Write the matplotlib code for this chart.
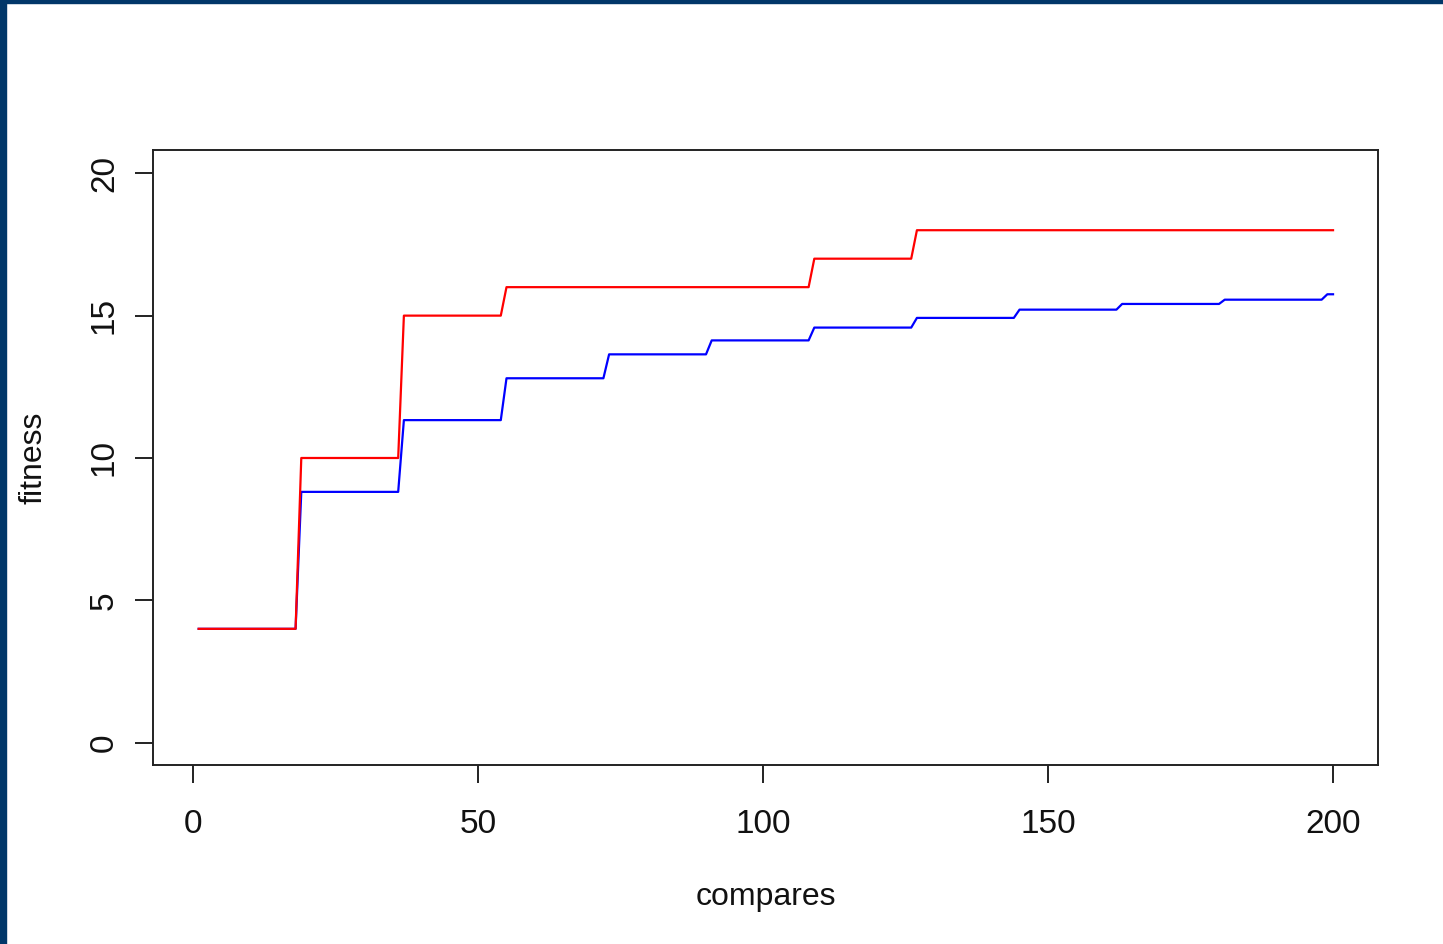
import numpy as np
import matplotlib
matplotlib.use('Agg')
import matplotlib.pyplot as plt
from matplotlib.patches import Rectangle

# fitness per generation block of 18 compares (last block is partial)
block_size = 18
best_fitness = [4, 10, 15, 16, 16, 16, 17, 18, 18, 18, 18, 18]
mean_fitness = [4, 8.81, 11.33, 12.8, 13.64, 14.13, 14.58, 14.92, 15.21, 15.41, 15.56, 15.75]
x_ticks = [0, 50, 100, 150, 200]
y_ticks = [0, 5, 10, 15, 20]

compares = np.arange(1, 201)
block = (compares - 1) // block_size
best = np.array(best_fitness)[block]
mean = np.array(mean_fitness)[block]

plt.rcParams['font.family'] = ['Liberation Sans', 'DejaVu Sans']

fig = plt.figure(figsize=(14.43, 9.44), dpi=100)
ax = fig.add_axes([0.10624, 0.18909, 0.8490, 0.6515])

ax.plot(compares, mean, color='#0000FF', lw=1.6)
ax.plot(compares, best, color='#FF0000', lw=1.6)

# R-style 4% padding around the data range
ax.set_xlim(1 - 0.04 * 199, 200 + 0.04 * 199)
ax.set_ylim(-0.8, 20.8)
ax.set_xticks(x_ticks)
ax.set_yticks(y_ticks)
ax.set_yticklabels([str(t) for t in y_ticks], rotation=90, va='center')

ax.tick_params(axis='both', direction='out', length=13, width=1.4,
               colors='#222222', labelsize=24, labelcolor='#111111')
ax.tick_params(axis='x', pad=18)
ax.tick_params(axis='y', pad=11)
for sp in ax.spines.values():
    sp.set_linewidth(1.4)
    sp.set_color('#222222')

ax.set_xlabel('compares', fontsize=23, color='#111111', va='baseline')
ax.xaxis.set_label_coords(0.5, -0.2268)
ax.set_ylabel('fitness', fontsize=23, color='#111111', va='center')
ax.yaxis.set_label_coords(-0.0975, 0.5)

# dark window frame along the left and top edges
fig.patches.append(Rectangle((0, 0), 6 / 1443, 1, transform=fig.transFigure,
                             color='#013769', zorder=10))
fig.patches.append(Rectangle((0, 1 - 3 / 944), 1, 3 / 944, transform=fig.transFigure,
                             color='#013769', zorder=10))

fig.savefig('out.png', dpi=100)
